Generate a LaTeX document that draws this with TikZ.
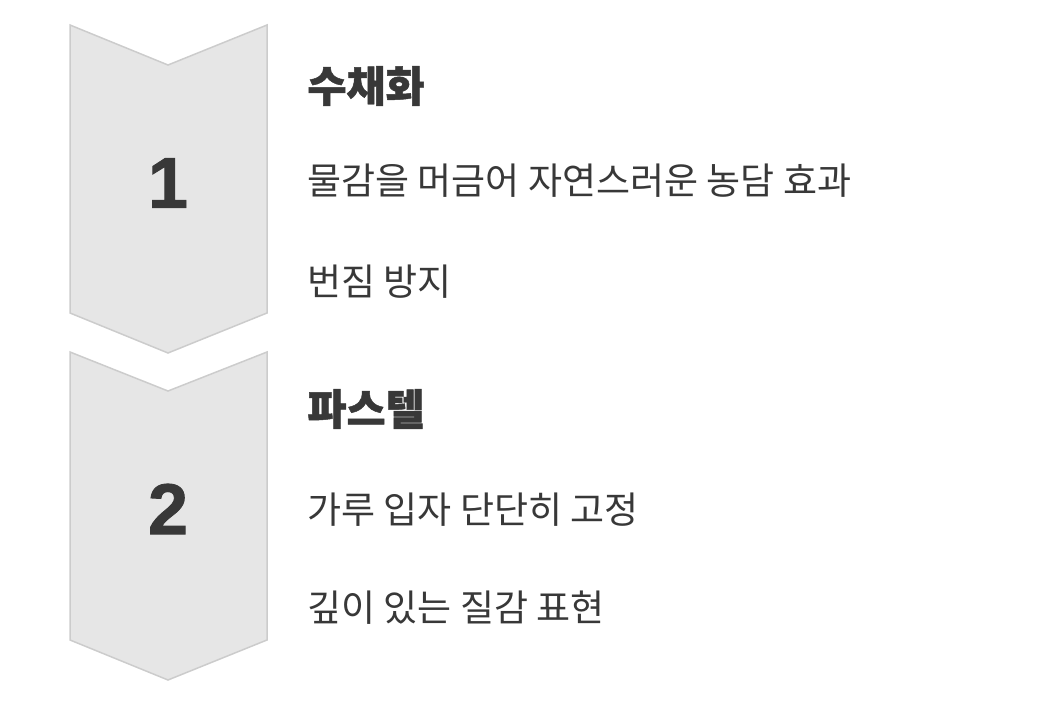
\documentclass[tikz,border=0pt]{standalone}
\usepackage{fontspec}
\setmainfont{Noto Sans CJK KR}
\newfontfamily\digitfont{Liberation Sans}
\definecolor{chevfill}{HTML}{E6E6E6}
\definecolor{chevline}{HTML}{CCCCCC}
\definecolor{inkgray}{HTML}{383838}
\begin{document}
\begin{tikzpicture}[x=1pt, y=-1pt, thick,
    chevron/.style={fill=chevfill, draw=chevline, line width=1.5pt, line join=miter},
    num node/.style={font=\digitfont\bfseries\addfontfeature{FakeBold=1.2}\fontsize{72}{72}\selectfont, text=inkgray, inner sep=0pt},
    head node/.style={anchor=west, font=\bfseries\addfontfeature{FakeBold=1.1}\fontsize{42.5}{42.5}\selectfont, text=inkgray, inner sep=0pt},
    item node/.style={anchor=west, font=\fontsize{37}{37}\selectfont, text=inkgray, inner sep=0pt}]

                \useasboundingbox (0, 0) rectangle (1060, 706);

                % step chevrons
                \draw[chevron] (70, 25) -- (168, 65) -- (267, 25) -- (267, 313) -- (168, 353) -- (70, 313) -- cycle;
                \draw[chevron] (70, 352) -- (168, 391) -- (267, 352) -- (267, 640) -- (168, 680) -- (70, 640) -- cycle;

                \node[num node] at (168, 183) (one) {1};
                \node[num node] at (168, 509) (two) {2};

                \node[head node] at (307, 86) (watercolor) {수채화};
                \node[item node] at (307, 181) (wet) {물감을 머금어 자연스러운 농담 효과};
                \node[item node] at (307, 282) (bleed) {번짐 방지};

                \node[head node] at (307, 409) (pastel) {파스텔};
                \node[item node] at (307, 510) (powder) {가루 입자 단단히 고정};
                \node[item node] at (307, 608) (texture) {깊이 있는 질감 표현};
            \end{tikzpicture}
\end{document}
